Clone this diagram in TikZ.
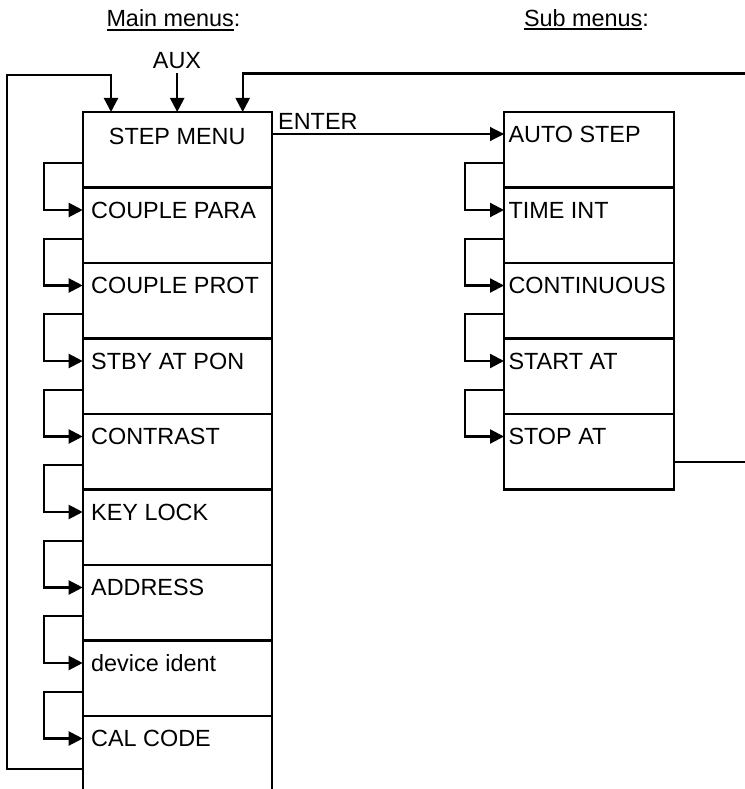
\documentclass[tikz,border=0pt]{standalone}
\usepackage{fontspec}
\setmainfont{Liberation Sans}
\usetikzlibrary{arrows.meta,calc}
\begin{document}
\begin{tikzpicture}[x=1pt,y=-1pt,
  lw/.style={line width=2.2pt},
  mbox/.style={draw,lw,minimum width=189pt,minimum height=75.5pt,inner sep=0pt,outer sep=0pt,anchor=north west},
  sbox/.style={draw,lw,minimum width=170pt,minimum height=75.5pt,inner sep=0pt,outer sep=0pt,anchor=north west},
  txt/.style={inner sep=0pt,outer sep=0pt,font=\fontsize{23.4}{28}\selectfont},
  conn/.style={lw,-{Triangle[length=14pt,width=14pt]}},
  thinconn/.style={line width=1.1pt,-{Triangle[length=14pt,width=14pt]}},
  uline/.style={line width=2pt}
]
\useasboundingbox (0,0) rectangle (744,789);

% main column
\foreach \i in {0,...,8} {
  \node[mbox] (m\i) at (82.7,{112+75.5*\i}) {};
}
% sub column
\foreach \i in {0,...,4} {
  \node[sbox] (s\i) at (504,{112+75.5*\i}) {};
}

% texts main
\node[txt,anchor=base] (t0) at ($(m0.north)+(0,32)$) {STEP MENU};
\foreach \i/\t in {1/COUPLE PARA,2/COUPLE PROT,3/STBY AT PON,4/CONTRAST,5/KEY LOCK,6/ADDRESS,7/device ident,8/CAL CODE} {
  \node[txt,anchor=base west] (t\i) at ($(m\i.north west)+(8.5,30.7)$) {\t};
}
% texts sub
\foreach \i/\t in {0/AUTO STEP,1/TIME INT,2/CONTINUOUS,3/START AT,4/STOP AT} {
  \node[txt,anchor=base west] (u\i) at ($(s\i.north west)+(4.5,30.7)$) {\t};
}

% headings
\node[txt,anchor=base west] (hm) at (106.5,26.7) {Main menus};
\node[txt,anchor=base west] (hmc) at (hm.base east) {:};
\draw[uline] ($(hm.base west)+(0,3.3)$) -- ($(hm.base east)+(0,3.3)$);
\node[txt,anchor=base west] (hs) at (524,26.2) {Sub menus};
\node[txt,anchor=base west] (hsc) at (hs.base east) {:};
\draw[uline] ($(hs.base west)+(0,3.1)$) -- ($(hs.base east)+(0,3.1)$);

% AUX
\node[txt,anchor=base] (aux) at (177,69) {AUX};
\coordinate (auxtop) at (177.2,73);
\draw[conn] (auxtop) -- (m0.north);

% ENTER
\node[txt,anchor=base west] (enter) at (278.2,129.3) {ENTER};
\draw[thinconn] ($(m0.north east)+(0,22)$) -- ($(s0.north west)+(0,22)$);

% main loops
\foreach \i/\j in {0/1,1/2,2/3,3/4,4/5,5/6,6/7,7/8} {
  \draw[conn] ($(m\i.north west)+(0,51.3)$) -- ++(-38.4,0) |- ($(m\j.north west)+(0,22.5)$);
}
% sub loops
\foreach \i/\j in {0/1,1/2,2/3,3/4} {
  \draw[conn] ($(s\i.north west)+(0,51.3)$) -- ++(-39.3,0) |- ($(s\j.north west)+(0,22.5)$);
}

% big left loop: CAL CODE back to STEP MENU
\draw[conn] ($(m8.north west)+(0,53.3)$) -- ++(-75.7,0) |- ($(m0.north west)+(28.3,-37)$) -- ($(m0.north west)+(28.3,0)$);

% right loop: STOP AT back to STEP MENU
\draw[conn] ($(s4.north east)+(0,48)$) -- ++(90,0) |- ($(m0.north west)+(160,-38.5)$) -- ($(m0.north west)+(160,0)$);
\end{tikzpicture}
\end{document}
